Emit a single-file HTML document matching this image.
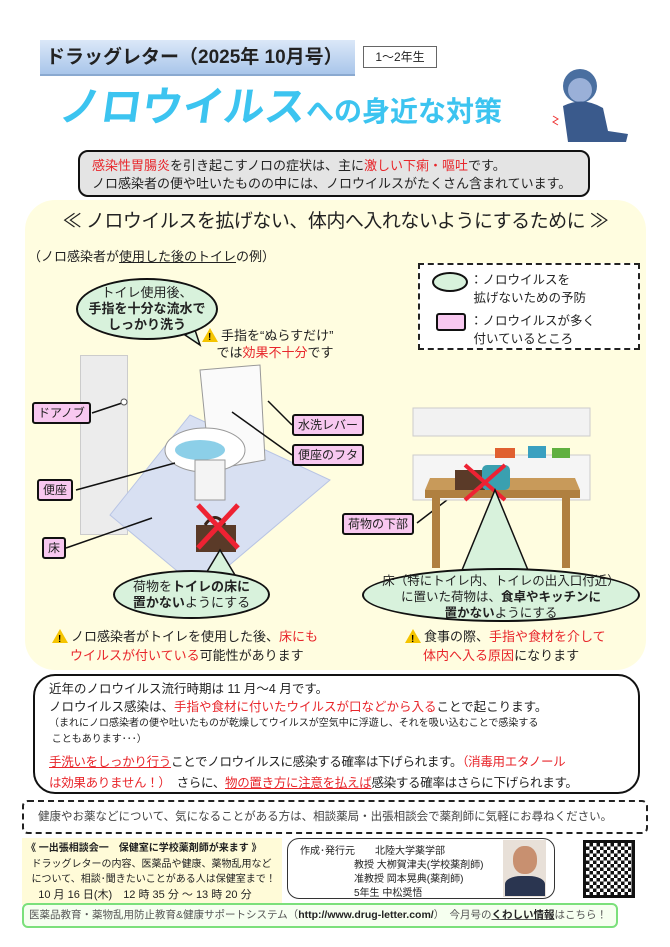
<!DOCTYPE html>
<html><head><meta charset="utf-8"><style>
*{margin:0;padding:0;box-sizing:border-box}
body{width:670px;height:947px;background:#fff;position:relative;overflow:hidden;font-family:"Liberation Sans","Noto Sans CJK JP",sans-serif;color:#222}
.a{position:absolute;white-space:nowrap}
.r{color:#e8262b}
.lbl{position:absolute;background:#f8c8f0;border:2px solid #111;border-radius:3px;font-size:12px;padding:1px 4px;line-height:16px;white-space:nowrap}
.bub{position:absolute;background:#d8f2dc;border:2px solid #111;border-radius:50%;text-align:center;font-size:13px;line-height:16px;white-space:nowrap}
.warn{display:inline-block;width:0;height:0;border-left:8px solid transparent;border-right:8px solid transparent;border-bottom:14px solid #f5c400;position:relative;vertical-align:-2px;margin-right:3px}
.warn:after{content:"!";position:absolute;left:-2px;top:1px;font-size:10px;font-weight:bold;color:#000}
</style></head><body>
<div class="a" style="left:40px;top:40px;width:315px;height:36px;background:linear-gradient(#dbe8f8,#a9c6ea);border-bottom:2px solid #8aa9d0;font-size:19px;font-weight:bold;line-height:36px;padding-left:6px">ドラッグレター（2025年&nbsp;10月号）</div>
<div class="a" style="left:363px;top:46px;width:74px;height:22px;border:1px solid #666;font-size:12px;line-height:20px;text-align:center">1～2年生</div>
<div class="a" style="left:60px;top:82px;color:#3cc4f0;font-weight:bold;line-height:50px"><span style="font-size:41px;display:inline-block;transform:skewX(-8deg)">ノロウイルス</span><span style="font-size:28px">への身近な対策</span></div>
<svg class="a" style="left:548px;top:66px" width="85" height="76">
<circle cx="32" cy="20" r="17" fill="#4a6fa0"/><circle cx="32" cy="24" r="12" fill="#9ab0d8"/>
<path d="M15 40 Q35 30 55 42 L60 65 L80 68 L78 76 L20 76 Z" fill="#3a5a8c"/>
<path d="M5 50 l5 3 -5 3 5 3" stroke="#e33" fill="none"/>
</svg>
<div class="a" style="left:78px;top:150px;width:512px;height:47px;background:#e4e4e4;border:2px solid #111;border-radius:10px;font-size:13px;line-height:18px;padding:5px 0 0 12px"><span class="r">感染性胃腸炎</span>を引き起こすノロの症状は、主に<span class="r">激しい下痢・嘔吐</span>です。<br>ノロ感染者の便や吐いたものの中には、ノロウイルスがたくさん含まれています。</div>
<div class="a" style="left:25px;top:200px;width:621px;height:470px;background:#fffde0;border-radius:30px"></div>
<div class="a" style="left:25px;top:208px;width:621px;text-align:center;font-size:19px;line-height:28px;letter-spacing:-0.5px">≪ ノロウイルスを拡げない、体内へ入れないようにするために ≫</div>
<div class="a" style="left:28px;top:246px;font-size:13px">（ノロ感染者が<u>使用した後のトイレ</u>の例）</div>
<div class="a" style="left:418px;top:263px;width:222px;height:87px;border:2px dashed #222;background:#fff"></div>
<div class="a" style="left:432px;top:272px;width:36px;height:20px;border:2px solid #111;border-radius:50%;background:#d8f2dc"></div>
<div class="a" style="left:470px;top:271px;font-size:12.5px;line-height:18px">：ノロウイルスを<br>&nbsp;拡げないための予防</div>
<div class="a" style="left:436px;top:313px;width:30px;height:18px;border:2px solid #111;border-radius:3px;background:#f8c8f0"></div>
<div class="a" style="left:470px;top:312px;font-size:12.5px;line-height:18px">：ノロウイルスが多く<br>&nbsp;付いているところ</div>
<div class="a" style="left:80px;top:355px;width:48px;height:180px;background:#ececec;border:1px solid #ccc"></div>
<svg class="a" style="left:0;top:0" width="670" height="947">
<polygon points="110,515 190,415 330,480 200,590" fill="#d8e0f2" stroke="#b8c4e4"/>
<polygon points="200,370 260,365 265,460 210,470" fill="#fafafa" stroke="#999"/>
<ellipse cx="205" cy="450" rx="40" ry="22" fill="#fff" stroke="#999"/>
<ellipse cx="200" cy="450" rx="25" ry="10" fill="#8ccfe8"/>
<rect x="195" y="460" width="30" height="40" fill="#f4f4f4" stroke="#999"/>
<rect x="196" y="525" width="40" height="27" fill="#5a3a28"/>
<path d="M205 525 q10 -15 20 0" stroke="#3a2418" stroke-width="3" fill="none"/>
<path d="M198 505 L238 548 M238 505 L198 548" stroke="#ee2233" stroke-width="5"/>
<g stroke="#111" stroke-width="1.5"><line x1="92" y1="413" x2="125" y2="402"/><line x1="76" y1="490" x2="175" y2="463"/><line x1="66" y1="548" x2="152" y2="518"/><line x1="292" y1="425" x2="268" y2="401"/><line x1="292" y1="455" x2="232" y2="412"/><line x1="417" y1="523" x2="460" y2="490"/></g>
<circle cx="124" cy="402" r="3" fill="#fff" stroke="#555"/>
<rect x="413" y="408" width="177" height="28" fill="#f2f2f2" stroke="#ccc"/>
<rect x="413" y="455" width="177" height="45" fill="#f5f5f5" stroke="#ccc"/>
<rect x="495" y="448" width="20" height="10" fill="#e06030"/><rect x="528" y="446" width="18" height="12" fill="#3aa0c0"/><rect x="552" y="448" width="18" height="10" fill="#60b040"/>
<polygon points="430,478 575,478 580,490 425,490" fill="#c89a5a"/>
<rect x="425" y="490" width="155" height="8" fill="#b08040"/>
<rect x="432" y="498" width="8" height="70" fill="#b08040"/><rect x="562" y="498" width="8" height="70" fill="#b08040"/>
<rect x="455" y="470" width="30" height="20" fill="#5a3a28"/><rect x="482" y="465" width="28" height="25" fill="#3aa0b0" rx="5"/>
<path d="M465 465 L505 500 M505 465 L465 500" stroke="#ee2233" stroke-width="4"/>
<polygon points="220,550 205,575 235,575" fill="#d8f2dc" stroke="#111" stroke-width="1.5"/>
<polygon points="495,490 460,575 530,575" fill="#d8f2dc" stroke="#111" stroke-width="1.5"/>
<polygon points="185,335 200,345 195,330" fill="#d8f2dc" stroke="#111" stroke-width="1.5"/>
</svg>
<div class="bub" style="left:76px;top:278px;width:142px;height:62px;padding-top:5px">トイレ使用後、<br><b>手指を十分な流水で<br>しっかり洗う</b></div>
<div class="a" style="left:202px;top:327px;font-size:13px;line-height:17px"><span class="warn"></span>手指を“ぬらすだけ”<br>&nbsp;&nbsp;&nbsp;&nbsp;では<span class="r">効果不十分</span>です</div>
<div class="lbl" style="left:32px;top:402px">ドアノブ</div>
<div class="lbl" style="left:292px;top:414px">水洗レバー</div>
<div class="lbl" style="left:292px;top:444px">便座のフタ</div>
<div class="lbl" style="left:37px;top:479px">便座</div>
<div class="lbl" style="left:42px;top:537px">床</div>
<div class="lbl" style="left:342px;top:513px">荷物の下部</div>
<div class="bub" style="left:113px;top:570px;width:157px;height:49px;padding-top:7px">荷物を<b>トイレの床に<br>置かない</b>ようにする</div>
<div class="bub" style="left:362px;top:568px;width:278px;height:54px;padding-top:3px;font-size:12.5px">床（特にトイレ内、トイレの出入口付近）<br>に置いた荷物は、<b>食卓やキッチンに<br>置かない</b>ようにする</div>
<div class="a" style="left:52px;top:627px;font-size:13px;line-height:19px"><span class="warn"></span>ノロ感染者がトイレを使用した後、<span class="r">床にも<br>&nbsp;&nbsp;&nbsp;&nbsp;&nbsp;ウイルスが付いている</span>可能性があります</div>
<div class="a" style="left:405px;top:627px;font-size:13px;line-height:19px"><span class="warn"></span>食事の際、<span class="r">手指や食材を介して<br>&nbsp;&nbsp;&nbsp;&nbsp;&nbsp;体内へ入る原因</span>になります</div>
<div class="a" style="left:33px;top:674px;width:607px;height:120px;border:2px solid #111;border-radius:22px;background:#fff;padding:4px 0 0 14px;font-size:12.5px;line-height:18px">近年のノロウイルス流行時期は 11 月～4 月です。<br>ノロウイルス感染は、<span class="r">手指や食材に付いたウイルスが口などから入る</span>ことで起こります。<br><span style="font-size:10px;line-height:16px;display:block">（まれにノロ感染者の便や吐いたものが乾燥してウイルスが空気中に浮遊し、それを吸い込むことで感染する<br>&nbsp;こともあります･･･）</span><div style="margin-top:4px;line-height:21px;letter-spacing:-0.3px"><u class="r">手洗いをしっかり行う</u>ことでノロウイルスに感染する確率は下げられます。<span class="r">（消毒用エタノール<br>は効果ありません！）</span>　さらに、<u class="r">物の置き方に注意を払えば</u>感染する確率はさらに下げられます。</div></div>
<div class="a" style="left:22px;top:800px;width:626px;height:34px;border:2px dashed #222;border-radius:6px;font-size:11.5px;line-height:30px;padding-left:14px;color:#444">健康やお薬などについて、気になることがある方は、相談薬局・出張相談会で薬剤師に気軽にお尋ねください。</div>
<div class="a" style="left:22px;top:838px;width:260px;height:67px;background:#fffbd8;font-size:10px;line-height:15.5px;padding:3px 0 0 4px"><b>《 一出張相談会一　保健室に学校薬剤師が来ます 》</b><br>&nbsp;&nbsp;ドラッグレターの内容、医薬品や健康、薬物乱用など<br>&nbsp;&nbsp;について、相談･聞きたいことがある人は保健室まで！<br><span style="font-size:11px">&nbsp;&nbsp;&nbsp;&nbsp;10 月 16 日(木)　12 時 35 分 ～ 13 時 20 分</span></div>
<div class="a" style="left:287px;top:838px;width:268px;height:61px;border:1.5px solid #333;border-radius:12px;font-size:10px;line-height:14px;padding:6px 0 0 12px">作成･発行元　　北陸大学薬学部<br><span style="padding-left:54px">教授 大栁賀津夫(学校薬剤師)</span><br><span style="padding-left:54px">准教授 岡本晃典(薬剤師)</span><br><span style="padding-left:54px">5年生 中松奨悟</span></div>
<div class="a" style="left:503px;top:840px;width:43px;height:57px;background:#e8e0d8"><div style="margin:6px auto 0;width:24px;height:28px;background:#c89070;border-radius:45%"></div><div style="margin:2px auto 0;width:40px;height:20px;background:#2a3550;border-radius:40% 40% 0 0"></div></div>
<div class="a" style="left:583px;top:840px;width:52px;height:58px;background:repeating-conic-gradient(#111 0 25%,#fff 0 50%) 0 0/7px 7px;border:3px solid #111"></div>
<div class="a" style="left:22px;top:903px;width:596px;height:25px;border:2px solid #7be07b;border-radius:6px;background:#f6fff0;font-size:10.5px;line-height:21px;padding-left:5px;color:#555">医薬品教育・薬物乱用防止教育&amp;健康サポートシステム（<b style="color:#222">http://www.drug-letter.com/</b>）　今月号の<u><b style="color:#222">くわしい情報</b></u>はこちら！</div>
</body></html>
